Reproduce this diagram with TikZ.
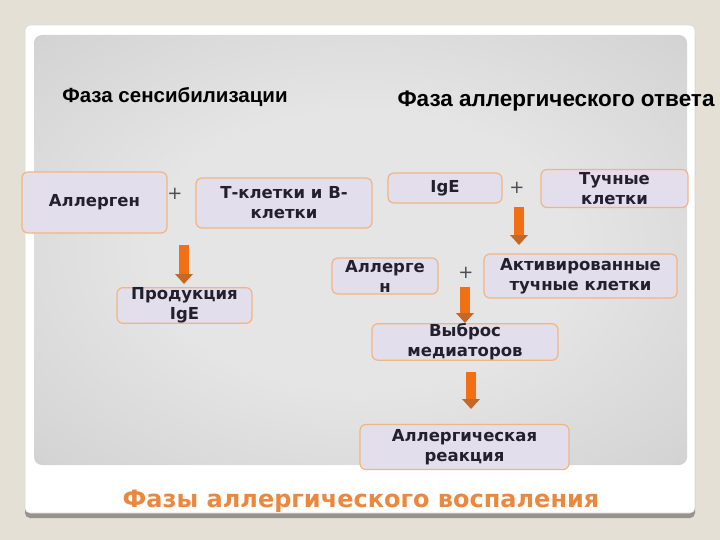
\documentclass[tikz,border=0pt]{standalone}
\usepackage{fontspec}
\setmainfont{DejaVu Sans}
\newfontfamily\boxfont{DejaVu Sans}
\newfontfamily\headfont{Liberation Sans}
\usetikzlibrary{arrows.meta}
\definecolor{bgbeige}{RGB}{229,224,214}
\definecolor{pnlin}{RGB}{229,229,229}
\definecolor{pnlmid}{RGB}{212,212,212}
\definecolor{pnlmid2}{RGB}{178,178,178}
\definecolor{pnlout}{RGB}{150,150,150}
\definecolor{boxfill}{RGB}{227,222,236}
\definecolor{boxbd}{RGB}{240,182,130}
\definecolor{boxtxt}{RGB}{35,32,45}
\definecolor{arrowor}{RGB}{242,112,20}
\definecolor{arrowhd}{RGB}{196,104,40}
\definecolor{titleor}{RGB}{236,136,62}
\definecolor{shadowc}{RGB}{150,146,140}
\pgfdeclareradialshading{panelshade}{\pgfpoint{0bp}{0bp}}{color(0bp)=(pnlin); color(16bp)=(pnlin); color(34bp)=(pnlmid); color(49bp)=(pnlmid2); color(72bp)=(pnlout)}
\begin{document}
\begin{tikzpicture}[x=1pt,y=-1pt,
  stepbox/.style={draw=boxbd, fill=boxfill, rounded corners=6pt, line width=1.2pt,
    font=\boxfont\bfseries\fontsize{16.5}{20}\selectfont, text=boxtxt, align=center, inner sep=0pt},
  plusmark/.style={font=\boxfont\fontsize{18}{20}\selectfont, text=boxtxt!80},
  phasehead/.style={font=\headfont\bfseries\fontsize{20.5}{24}\selectfont, text=black},
  bigarrow/.style={draw=arrowor, line width=10pt, -{Triangle[width=18pt,length=10pt,fill=arrowhd,line width=0pt]}}]
\useasboundingbox (0,0) rectangle (720,540);
\fill[bgbeige] (0,0) rectangle (720,540);
% card
\fill[shadowc, rounded corners=5pt] (25,30) rectangle (695,518);
\fill[white, rounded corners=5pt] (25,25) rectangle (695,513);
\draw[black!15, line width=0.6pt, rounded corners=5pt] (25,25) rectangle (695,513);
\shade[shading=panelshade, rounded corners=8pt] (34,35) rectangle (687,465);
% headings
\node[phasehead] (h1) at (175,97) {Фаза сенсибилизации};
\node[phasehead, font=\headfont\bfseries\fontsize{22.5}{26}\selectfont] (h2) at (556,101) {Фаза аллергического ответа};
% boxes
\node[stepbox, minimum width=145pt, minimum height=61pt] (all1) at (94.5,202.5) {Аллерген};
\node[stepbox, minimum width=176pt, minimum height=50pt] (tb) at (284,203) {Т-клетки и В-\\клетки};
\node[stepbox, minimum width=135pt, minimum height=35pt] (prod) at (184.5,305.5) {Продукция\\IgE};
\node[stepbox, minimum width=114pt, minimum height=30pt] (ige) at (445,188) {IgE};
\node[stepbox, minimum width=147pt, minimum height=38pt] (tuch) at (614.5,188.5) {Тучные\\клетки};
\node[stepbox, minimum width=106pt, minimum height=36pt] (all2) at (385,276) {Аллерге\\н};
\node[stepbox, minimum width=193pt, minimum height=44pt] (akt) at (580.5,276) {Активированные\\тучные клетки};
\node[stepbox, minimum width=186pt, minimum height=29pt] (vyb) at (465,342) {Выброс\\медиаторов};
\node[stepbox, minimum width=209pt, minimum height=45pt] (ar) at (464.5,447) {Аллергическая\\реакция};
% plus signs
\node[plusmark] (p1) at (175,194) {+};
\node[plusmark] (p2) at (517,188) {+};
\node[plusmark] (p3) at (466,273) {+};
% arrows
\coordinate (a1s) at (184,245);
\coordinate (a1e) at (184,284);
\coordinate (a2s) at (519,207);
\coordinate (a2e) at (519,245);
\coordinate (a3s) at (465,287);
\coordinate (a3e) at (465,323);
\coordinate (a4s) at (471,372);
\coordinate (a4e) at (471,409);
\draw[bigarrow] (a1s) -- (a1e);
\draw[bigarrow] (a2s) -- (a2e);
\draw[bigarrow] (a3s) -- (a3e);
\draw[bigarrow] (a4s) -- (a4e);
% title
\node[font=\boxfont\bfseries\fontsize{24}{27}\selectfont, text=titleor] (title) at (361,501) {Фазы аллергического воспаления};
\end{tikzpicture}
\end{document}
